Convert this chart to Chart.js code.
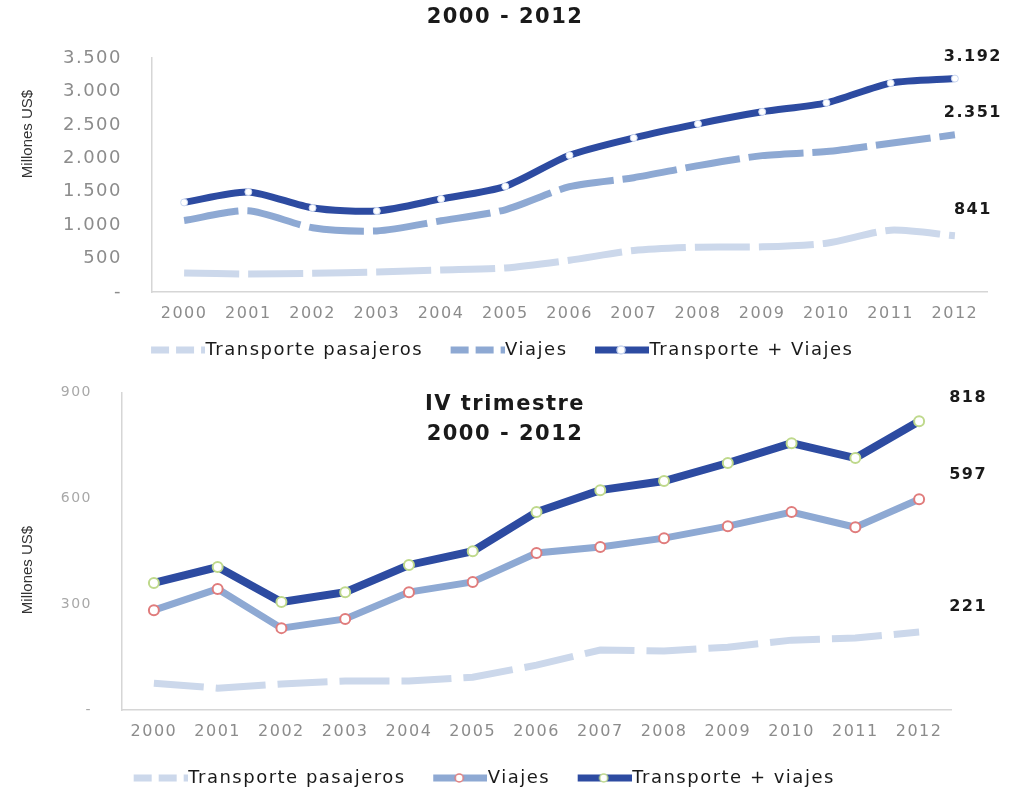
<!DOCTYPE html>
<html lang="es">
<head>
<meta charset="UTF-8">
<title>Transporte y Viajes 2000 - 2012</title>
<script src="https://cdn.jsdelivr.net/npm/chart.js"></script>
<style>
    body { margin: 0; background: #fff; width: 1010px; height: 795px; overflow: hidden; position: relative; }
    canvas { position: absolute; left: 0; }
</style>
</head>
<body>

<!-- anual arriba, IV trimestre abajo (the two canvases overlap a little, both are transparent) -->
<canvas id="anual" width="1010" height="369" style="top:0"></canvas>
<canvas id="trimestre" width="1010" height="443" style="top:354px"></canvas>

<script>
    const years = ['2000', '2001', '2002', '2003', '2004', '2005', '2006', '2007', '2008', '2009', '2010', '2011', '2012'];

    // 2000 - 2012, millones US$
    const anualPasajeros = [284, 270, 280, 299, 329, 360, 475, 620, 670, 675, 730, 925, 841];
    const anualViajes    = [1070, 1215, 960, 913, 1065, 1230, 1575, 1710, 1890, 2040, 2100, 2225, 2351];
    const anualTotal     = [1340, 1497, 1257, 1212, 1392, 1580, 2045, 2305, 2515, 2695, 2829, 3125, 3192];
    const anualTicks     = [0, 500, 1000, 1500, 2000, 2500, 3000, 3500];

    // IV trimestre 2000 - 2012, millones US$
    const trimPasajeros = [76, 62, 74, 82, 82, 93, 127, 170, 167, 178, 198, 204, 221];
    const trimViajes    = [283, 343, 232, 258, 334, 363, 445, 462, 487, 521, 561, 518, 597];
    const trimTotal     = [360, 405, 306, 334, 411, 450, 561, 623, 649, 700, 756, 714, 818];
    const trimTicks     = [0, 300, 600, 900];

    const DARK = '#2d4ba1';
    const MID = '#8ea9d3';
    const LIGHT = '#ccd8eb';
    const AXIS = '#d6d6d6';

    // 3500 -> "3.500", 0 -> "-"
    function fmt(v) {
        if (v === 0) return '-';
        return String(v).replace(/\B(?=(\d{3})+(?!\d))/g, '.');
    }

    // little line samples for the legend (drawn as pointStyle images)
    // 18px blank on the left stands in for the gap between items
    function legendSample(color, dash, lw, marker) {
        const c = document.createElement('canvas');
        c.width = 80; c.height = 14;
        const g = c.getContext('2d');
        g.strokeStyle = color;
        g.lineWidth = lw;
        g.setLineDash(dash || []);
        g.beginPath(); g.moveTo(26, 7); g.lineTo(80, 7); g.stroke();
        if (marker) {
            g.setLineDash([]);
            g.fillStyle = '#fff';
            g.strokeStyle = marker;
            g.lineWidth = 1.5;
            g.beginPath(); g.arc(52, 7, 4, 0, Math.PI * 2); g.fill(); g.stroke();
        }
        return c;
    }

    // titles, y axis title, end values, wider letter spacing
    const decor = {
        id: 'decor',
        beforeLayout(chart) { chart.ctx.letterSpacing = '1.5px'; },
        beforeDraw(chart) { chart.ctx.letterSpacing = '1.5px'; },
        afterDraw(chart, args, opts) {
            const ctx = chart.ctx;
            ctx.save();
            ctx.fillStyle = '#1a1a1a';
            ctx.textAlign = 'center';
            ctx.textBaseline = 'middle';
            ctx.font = 'bold 21px "DejaVu Sans"';
            opts.title.forEach((t, i) => ctx.fillText(t, chart.width / 2, opts.titleY + i * 30));

            ctx.font = 'bold 16px "DejaVu Sans"';
            chart.data.datasets.forEach((ds, i) => {
                const pts = chart.getDatasetMeta(i).data;
                const p = pts[pts.length - 1];
                ctx.fillText(fmt(ds.data[ds.data.length - 1]), p.x + opts.labelDx, p.y + opts.labelDy[i]);
            });

            ctx.letterSpacing = '0px';
            ctx.fillStyle = '#333';
            ctx.font = '15px "Liberation Sans"';
            ctx.translate(28, opts.axisTitleY);
            ctx.rotate(-Math.PI / 2);
            ctx.fillText('Millones US$', 0, 0);
            ctx.restore();
        }
    };

    function legendOpts(samples) {
        return {
            position: 'bottom',
            labels: {
                usePointStyle: true,
                pointStyleWidth: 63,
                padding: 10,
                color: '#1a1a1a',
                font: { family: 'DejaVu Sans', size: 18 },
                generateLabels(chart) {
                    const items = Chart.defaults.plugins.legend.labels.generateLabels(chart);
                    items.forEach((it, i) => { it.pointStyle = samples[i]; });
                    return items;
                }
            }
        };
    }

    function scalesOpts(ticks, yWidth, xHeight, yFont, yColor) {
        return {
            x: {
                offset: true,
                grid: { display: false, drawTicks: false },
                border: { display: true, color: AXIS, width: 1.5 },
                ticks: { color: '#8c8c8c', padding: 12, font: { family: 'DejaVu Sans', size: 16 } },
                afterFit(s) { s.height = xHeight; }
            },
            y: {
                min: 0,
                max: ticks[ticks.length - 1],
                grid: { display: false, drawTicks: false },
                border: { display: true, color: AXIS, width: 1.5 },
                afterBuildTicks(s) { s.ticks = ticks.map(v => ({ value: v })); },
                ticks: { color: yColor, padding: 30, font: { family: 'DejaVu Sans', size: yFont }, callback: v => fmt(v) },
                afterFit(s) { s.width = yWidth; }
            }
        };
    }

    new Chart(document.getElementById('anual'), {
        type: 'line',
        data: {
            labels: years,
            datasets: [
                { label: 'Transporte pasajeros', data: anualPasajeros, borderColor: LIGHT, borderWidth: 7,
                  borderDash: [55, 9], pointRadius: 0, tension: 0.25 },
                { label: 'Viajes', data: anualViajes, borderColor: MID, borderWidth: 7,
                  borderDash: [55, 9], pointRadius: 0, tension: 0.25 },
                { label: 'Transporte + Viajes', data: anualTotal, borderColor: DARK, borderWidth: 7,
                  pointRadius: 3.5, pointBackgroundColor: '#fff', pointBorderColor: '#c9d6f0', pointBorderWidth: 1,
                  tension: 0.25 }
            ]
        },
        options: {
            responsive: false,
            animation: false,
            layout: { padding: { top: 58, right: 23, bottom: 0, left: 0 } },
            scales: scalesOpts(anualTicks, 152, 39, 18, '#8c8c8c'),
            plugins: {
                legend: legendOpts([
                    legendSample(LIGHT, [18, 7], 7),
                    legendSample(MID, [18, 7], 7),
                    legendSample(DARK, [], 7, '#c9d6f0')
                ]),
                tooltip: { enabled: false },
                decor: { title: ['2000 - 2012'], titleY: 18, axisTitleY: 134, labelDx: 18, labelDy: [-26, -22, -22] }
            }
        },
        plugins: [decor]
    });

    new Chart(document.getElementById('trimestre'), {
        type: 'line',
        data: {
            labels: years,
            datasets: [
                { label: 'Transporte pasajeros', data: trimPasajeros, borderColor: LIGHT, borderWidth: 7,
                  borderDash: [50, 12], pointRadius: 0 },
                { label: 'Viajes', data: trimViajes, borderColor: MID, borderWidth: 7,
                  pointRadius: 5, pointBackgroundColor: '#fff', pointBorderColor: '#e07c7c', pointBorderWidth: 2 },
                { label: 'Transporte + viajes', data: trimTotal, borderColor: DARK, borderWidth: 8,
                  pointRadius: 5, pointBackgroundColor: '#fff', pointBorderColor: '#bfd98c', pointBorderWidth: 2 }
            ]
        },
        options: {
            responsive: false,
            animation: false,
            // chart area can't start above 38 here anyway
            layout: { padding: { top: 38, right: 59, bottom: 0, left: 0 } },
            scales: scalesOpts(trimTicks, 122, 49, 14, '#a8a8a8'),
            plugins: {
                legend: legendOpts([
                    legendSample(LIGHT, [18, 7], 7),
                    legendSample(MID, [], 7, '#e07c7c'),
                    legendSample(DARK, [], 7, '#bfd98c')
                ]),
                tooltip: { enabled: false },
                decor: { title: ['IV trimestre', '2000 - 2012'], titleY: 51, axisTitleY: 216, labelDx: 49, labelDy: [-25, -24, -23] }
            }
        },
        plugins: [decor]
    });
</script>

</body>
</html>
